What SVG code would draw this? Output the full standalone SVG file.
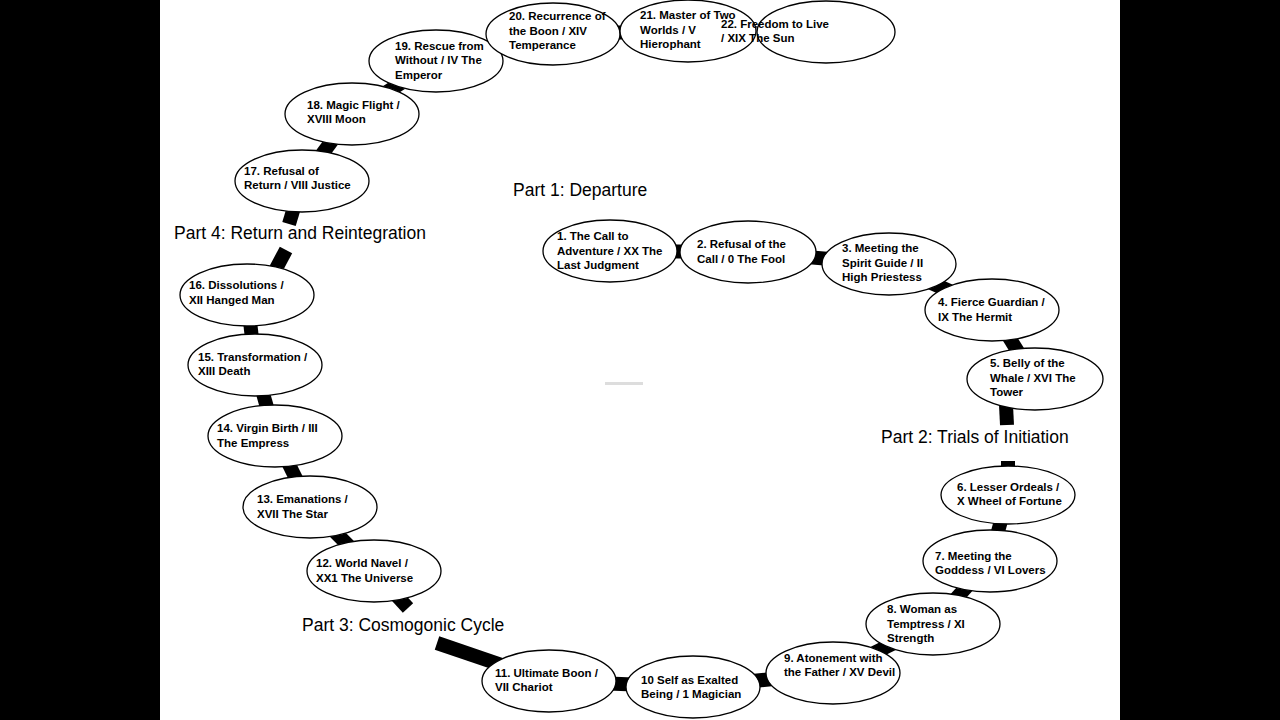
<svg xmlns="http://www.w3.org/2000/svg" width="1280" height="720" viewBox="0 0 1280 720">
<style>
.n ellipse{fill:#fff;stroke:#000;stroke-width:1.3}
.n text{font-family:"Liberation Sans",Arial,sans-serif;font-weight:bold;font-size:11.5px;fill:#000}
.c line{stroke:#000;stroke-width:14}
.p{font-family:"Liberation Sans",Arial,sans-serif;font-size:17.5px;fill:#000}
</style>
<rect width="1280" height="720" fill="#000"/>
<rect x="160" y="0" width="960" height="720" fill="#fff"/>
<rect x="605" y="382" width="38" height="3" fill="#ddd"/>
<g class="c" id="connectors">
<line x1="610" y1="251" x2="748" y2="252"/>
<line x1="748" y1="252" x2="889" y2="264"/>
<line x1="889" y1="264" x2="992" y2="310"/>
<line x1="992" y1="310" x2="1035" y2="379"/>
<line x1="1006" y1="405" x2="1007" y2="425"/>
<line x1="1008" y1="461" x2="1008" y2="480"/>
<line x1="1008" y1="495" x2="990" y2="561"/>
<line x1="990" y1="561" x2="933" y2="624"/>
<line x1="933" y1="624" x2="833" y2="673"/>
<line x1="833" y1="673" x2="693" y2="687"/>
<line x1="693" y1="687" x2="549" y2="681"/>
<line x1="549" y1="681" x2="437" y2="643"/>
<line x1="374" y1="571" x2="408" y2="608"/>
<line x1="374" y1="571" x2="310" y2="507"/>
<line x1="310" y1="507" x2="275" y2="436"/>
<line x1="275" y1="436" x2="255" y2="365"/>
<line x1="255" y1="365" x2="247" y2="295"/>
<line x1="270" y1="280" x2="286" y2="250"/>
<line x1="289" y1="224" x2="302" y2="181"/>
<line x1="302" y1="181" x2="352" y2="114"/>
<line x1="352" y1="114" x2="436" y2="61"/>
<line x1="436" y1="61" x2="553" y2="34"/>
<line x1="553" y1="34" x2="688" y2="31"/>
</g>
<g class="n" id="n1"><ellipse cx="610" cy="251" rx="67" ry="31"/><text x="557" y="240">1. The Call to</text><text x="557" y="255">Adventure / XX The</text><text x="557" y="269">Last Judgment</text></g>
<g class="n" id="n2"><ellipse cx="748" cy="252" rx="68" ry="31"/><text x="697" y="248">2. Refusal of the</text><text x="697" y="263">Call / 0 The Fool</text></g>
<g class="n" id="n3"><ellipse cx="889" cy="264" rx="67" ry="31"/><text x="842" y="252">3. Meeting the</text><text x="842" y="267">Spirit Guide / II</text><text x="842" y="281">High Priestess</text></g>
<g class="n" id="n4"><ellipse cx="992" cy="310" rx="67" ry="31"/><text x="938" y="306">4. Fierce Guardian /</text><text x="938" y="321">IX The Hermit</text></g>
<g class="n" id="n5"><ellipse cx="1035" cy="379" rx="68" ry="31"/><text x="990" y="367">5. Belly of the</text><text x="990" y="382">Whale / XVI The</text><text x="990" y="396">Tower</text></g>
<g class="n" id="n6"><ellipse cx="1008" cy="495" rx="67" ry="29"/><text x="957" y="491">6. Lesser Ordeals /</text><text x="957" y="505">X Wheel of Fortune</text></g>
<g class="n" id="n7"><ellipse cx="990" cy="561" rx="67" ry="31"/><text x="935" y="560">7. Meeting the</text><text x="935" y="574">Goddess / VI Lovers</text></g>
<g class="n" id="n8"><ellipse cx="933" cy="624" rx="67" ry="31"/><text x="887" y="613">8. Woman as</text><text x="887" y="628">Temptress / XI</text><text x="887" y="642">Strength</text></g>
<g class="n" id="n9"><ellipse cx="833" cy="673" rx="67" ry="31"/><text x="784" y="662">9. Atonement with</text><text x="784" y="676">the Father / XV Devil</text></g>
<g class="n" id="n10"><ellipse cx="693" cy="687" rx="67" ry="31"/><text x="641" y="684">10 Self as Exalted</text><text x="641" y="698">Being / 1 Magician</text></g>
<g class="n" id="n11"><ellipse cx="549" cy="681" rx="67" ry="31"/><text x="495" y="677">11. Ultimate Boon /</text><text x="495" y="691">VII Chariot</text></g>
<g class="n" id="n12"><ellipse cx="374" cy="571" rx="67" ry="31"/><text x="316" y="567">12. World Navel /</text><text x="316" y="582">XX1 The Universe</text></g>
<g class="n" id="n13"><ellipse cx="310" cy="507" rx="67" ry="31"/><text x="257" y="503">13. Emanations /</text><text x="257" y="518">XVII The Star</text></g>
<g class="n" id="n14"><ellipse cx="275" cy="436" rx="67" ry="31"/><text x="217" y="432">14. Virgin Birth / III</text><text x="217" y="447">The Empress</text></g>
<g class="n" id="n15"><ellipse cx="255" cy="365" rx="67" ry="31"/><text x="198" y="361">15. Transformation /</text><text x="198" y="375">XIII Death</text></g>
<g class="n" id="n16"><ellipse cx="247" cy="295" rx="67" ry="31"/><text x="189" y="289">16. Dissolutions /</text><text x="189" y="304">XII Hanged Man</text></g>
<g class="n" id="n17"><ellipse cx="302" cy="181" rx="67" ry="31"/><text x="244" y="175">17. Refusal of</text><text x="244" y="189">Return / VIII Justice</text></g>
<g class="n" id="n18"><ellipse cx="352" cy="114" rx="67" ry="31"/><text x="307" y="109">18. Magic Flight /</text><text x="307" y="123">XVIII Moon</text></g>
<g class="n" id="n19"><ellipse cx="436" cy="61" rx="67" ry="31"/><text x="395" y="50">19. Rescue from</text><text x="395" y="64">Without / IV The</text><text x="395" y="79">Emperor</text></g>
<g class="n" id="n20"><ellipse cx="553" cy="34" rx="67" ry="31"/><text x="509" y="20">20. Recurrence of</text><text x="509" y="35">the Boon / XIV</text><text x="509" y="49">Temperance</text></g>
<g class="n" id="n21"><ellipse cx="688" cy="31" rx="68" ry="31"/><text x="640" y="19">21. Master of Two</text><text x="640" y="34">Worlds / V</text><text x="640" y="48">Hierophant</text></g>
<g class="n" id="n22"><ellipse cx="826" cy="32" rx="69" ry="31"/><text x="721" y="28" dx="0">22. Freedom to Live</text><text x="721" y="42">/ XIX The Sun</text></g>
<text class="p" x="513" y="196">Part 1: Departure</text>
<text class="p" x="174" y="239">Part 4: Return and Reintegration</text>
<text class="p" x="881" y="443">Part 2: Trials of Initiation</text>
<text class="p" x="302" y="631">Part 3: Cosmogonic Cycle</text>
</svg>
